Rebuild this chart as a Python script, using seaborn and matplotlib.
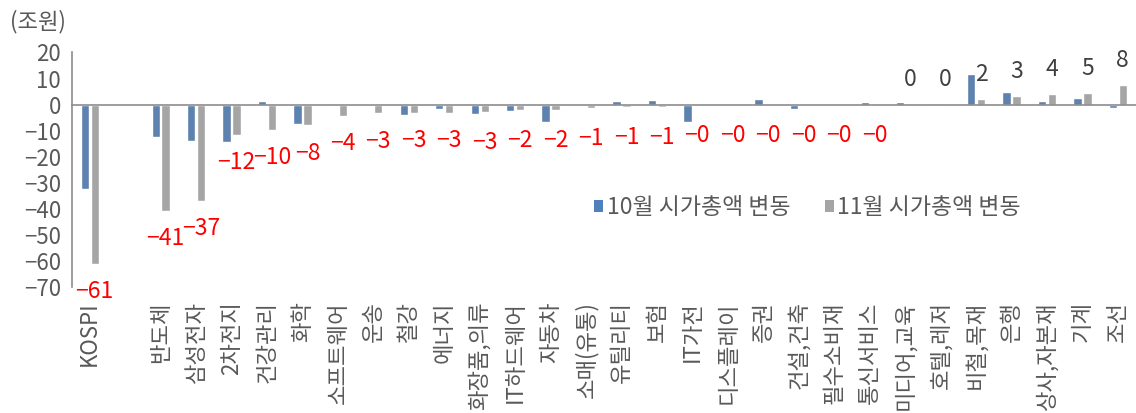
import numpy as np
import pandas as pd
import matplotlib
matplotlib.use("Agg")
import matplotlib.pyplot as plt
from matplotlib.patches import Patch
from matplotlib.ticker import FixedLocator
import seaborn as sns

# 업종별 시가총액 변동 (조원)
sectors = ["KOSPI", "", "반도체", "삼성전자", "2차전지", "건강관리", "화학", "소프트웨어",
           "운송", "철강", "에너지", "화장품,의류", "IT하드웨어", "자동차", "소매(유통)",
           "유틸리티", "보험", "IT가전", "디스플레이", "증권", "건설,건축", "필수소비재",
           "통신서비스", "미디어,교육", "호텔,레저", "비철,목재", "은행", "상사,자본재",
           "기계", "조선"]
oct_change = [-32.2, np.nan, -12.3, -13.8, -14.4, 1.5, -7.4, 0.3,
              -0.2, -3.8, -1.8, -3.4, -2.6, -6.6, -0.2,
              1.3, 1.9, -6.8, -0.3, 2.0, -1.8, -0.2,
              0.9, 1.2, 0.2, 11.9, 4.8, 1.3,
              2.7, -1.3]
nov_change = [-61.0, np.nan, -40.6, -37.0, -11.7, -9.6, -7.9, -4.2,
              -3.3, -3.1, -3.1, -2.8, -2.2, -2.1, -1.4,
              -1.0, -0.9, -0.3, -0.3, -0.2, -0.2, -0.2,
              -0.1, 0.2, 0.2, 2.2, 3.2, 4.0,
              4.6, 7.7]
series_names = ["10월 시가총액 변동", "11월 시가총액 변동"]
y_ticks = list(range(-70, 21, 10))

BLUE = "#4F81BD"
GRAY = "#A5A5A5"
AXIS = "#8C8C8C"
TEXT = "#595959"

df = pd.DataFrame({
    "업종": sectors * 2,
    "변동": oct_change + nov_change,
    "구분": [series_names[0]] * len(sectors) + [series_names[1]] * len(sectors),
})

sns.set_theme(style="white")
plt.rcParams["font.family"] = ["Noto Sans CJK KR", "DejaVu Sans"]
plt.rcParams["axes.unicode_minus"] = True

fig = plt.figure(figsize=(11.36, 4.13), dpi=100)
ax = fig.add_axes([0.0634, 0.3044, 0.9362, 0.5686])

sns.barplot(data=df, x="업종", y="변동", hue="구분", order=sectors,
            hue_order=series_names, palette=[BLUE, GRAY],
            width=0.56, gap=0.16, legend=False, ax=ax, errorbar=None)

n = len(sectors)
ax.set_xlim(-0.5, n - 0.5)
ax.set_ylim(-70, 20)
ax.set_xlabel("")
ax.set_ylabel("")

# y axis: ticks pointing inward
ax.set_yticks(y_ticks)
ax.tick_params(axis="y", direction="in", length=6, width=1.2, color=AXIS,
               labelsize=16, labelcolor=TEXT, pad=8)
for s in ["top", "right"]:
    ax.spines[s].set_visible(False)
ax.spines["left"].set_color(AXIS)
ax.spines["left"].set_linewidth(1.2)

# category axis line at zero with crossing ticks between categories
ax.spines["bottom"].set_position(("data", 0))
ax.spines["bottom"].set_color(AXIS)
ax.spines["bottom"].set_linewidth(1.2)
ax.set_xticks(range(n))
ax.set_xticklabels([])
ax.tick_params(axis="x", which="major", length=0)
ax.xaxis.set_minor_locator(FixedLocator(np.arange(-0.5, n - 0.5, 1.0)))
ax.tick_params(axis="x", which="minor", direction="inout", length=8.6,
               width=1.2, color=AXIS)

# category names along the bottom of the plot area
sec = ax.secondary_xaxis("bottom")
sec.set_xticks(range(n))
sec.set_xticklabels(sectors, rotation=90, fontsize=16, color=TEXT)
sec.tick_params(axis="x", length=0, pad=10)
sec.spines["bottom"].set_visible(False)

# value labels on the 11월 bars
for patch in ax.containers[1]:
    h = patch.get_height()
    if np.isnan(h):
        continue
    xc = patch.get_x() + patch.get_width() / 2
    txt = f"{h:.0f}".replace("-", "\u2212")
    if h < 0:
        dy = -20 if h < -3 else -22
        ax.annotate(txt, (xc, h), xytext=(0, dy), textcoords="offset points",
                    ha="center", va="center", fontsize=16.5, color="#FF0000",
                    annotation_clip=False)
    else:
        ax.annotate(txt, (xc, h), xytext=(0, 17.5), textcoords="offset points",
                    ha="center", va="center", fontsize=16.5, color="#404040",
                    annotation_clip=False)

# unit
fig.text(0.009, 0.947, "(조원)", fontsize=16, color=TEXT, ha="left", va="center")

handles = [Patch(facecolor=BLUE, edgecolor="none", label=series_names[0]),
           Patch(facecolor=GRAY, edgecolor="none", label=series_names[1])]
fig.legend(handles=handles, loc="center left", bbox_to_anchor=(0.523, 0.497),
           ncol=2, frameon=False, fontsize=16.5, handlelength=0.4,
           handleheight=0.4, handletextpad=0.15, columnspacing=1.5,
           borderpad=0, borderaxespad=0, labelcolor=TEXT)

fig.savefig("out.png", dpi=100)
